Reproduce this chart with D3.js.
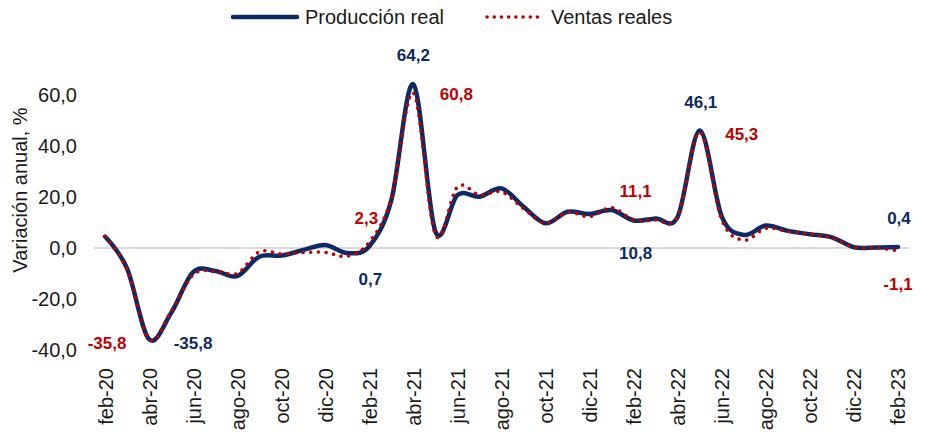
<!DOCTYPE html>
<html>
<head>
<meta charset="utf-8">
<script src="https://cdn.jsdelivr.net/npm/d3@7"></script>
<style>
  body { margin: 0; background: #fff; }
  svg { display: block; font-family: "Liberation Sans", Arial, sans-serif; }
</style>
</head>
<body>
<div id="chart"></div>
<script>
// monthly data, feb-20 .. feb-23
const months = [
  'feb-20','mar-20','abr-20','may-20','jun-20','jul-20','ago-20','sep-20','oct-20','nov-20','dic-20',
  'ene-21','feb-21','mar-21','abr-21','may-21','jun-21','jul-21','ago-21','sep-21','oct-21','nov-21','dic-21',
  'ene-22','feb-22','mar-22','abr-22','may-22','jun-22','jul-22','ago-22','sep-22','oct-22','nov-22','dic-22',
  'ene-23','feb-23'
];
const produccion = [
  4.5, -8, -35.8, -25.5, -9.5, -9, -11, -3.4, -3, -0.8, 1.2,
  -2, 0.7, 18.8, 64.2, 6.4, 20.8, 20.1, 23.4, 16.2, 9.7, 14.2, 13.3,
  14.9, 10.8, 11.6, 12.3, 46.1, 12.3, 5.1, 8.8, 6.7, 5.4, 4.2, 0.3,
  0.2, 0.4
];
const ventas = [
  4.5, -8.5, -35.8, -25, -10.5, -9, -10, -1.5, -2.3, -1.8, -1.7,
  -3.2, 2.3, 19.5, 60.8, 5.1, 24, 20.8, 22, 15.5, 9.7, 14, 12.3,
  15.8, 11.1, 11, 12.5, 45.3, 11, 3.1, 7.7, 6.5, 5.4, 4, 0.3,
  0.1, -1.1
];
const yTicks = [-40, -20, 0, 20, 40, 60];
const seriesNames = ['Producción real', 'Ventas reales'];

// which points get a value label (series index, month, offset)
const labelled = [
  { s: 0, m: 'abr-20', dx: 44, dy: 4 },
  { s: 1, m: 'abr-20', dx: -42, dy: 4 },
  { s: 0, m: 'feb-21', dx: 1, dy: 33 },
  { s: 1, m: 'feb-21', dx: -3, dy: -24 },
  { s: 0, m: 'abr-21', dx: 0, dy: -29 },
  { s: 1, m: 'abr-21', dx: 43, dy: 2 },
  { s: 0, m: 'feb-22', dx: 2, dy: 33 },
  { s: 1, m: 'feb-22', dx: 2, dy: -28 },
  { s: 0, m: 'may-22', dx: 1, dy: -28 },
  { s: 1, m: 'may-22', dx: 42, dy: 2 },
  { s: 0, m: 'feb-23', dx: 1, dy: -28 },
  { s: 1, m: 'feb-23', dx: 0, dy: 34 }
];

const width = 926, height = 432;
const blue = '#0c2a66', red = '#c00000';
const values = [produccion, ventas];
const colors = [blue, red];

const locale = d3.formatLocale({ decimal: ',', thousands: '.', grouping: [3], currency: ['', ''], minus: '-' });
const fmt = locale.format('.1f');

const svg = d3.select('#chart').append('svg')
  .attr('width', width)
  .attr('height', height);

const x = d3.scalePoint().domain(months).range([94, 909]).padding(0.5);
const y = d3.scaleLinear().domain([-40, 70]).range([350, 69.5]);

// zero line
svg.append('line')
  .attr('x1', 94).attr('x2', 909)
  .attr('y1', y(0)).attr('y2', y(0))
  .attr('stroke', '#d9d9d9').attr('stroke-width', 2);

// y axis
const yAxis = svg.append('g')
  .attr('transform', 'translate(77,0)')
  .call(d3.axisLeft(y).tickValues(yTicks).tickSize(0).tickPadding(0).tickFormat(fmt));
yAxis.select('.domain').remove();
yAxis.selectAll('text')
  .attr('font-size', 20)
  .attr('font-family', '"Liberation Sans", Arial, sans-serif')
  .attr('fill', '#1a1a1a');

svg.append('text')
  .attr('transform', 'translate(20,190) rotate(-90)')
  .attr('text-anchor', 'middle')
  .attr('dominant-baseline', 'central')
  .attr('font-size', 20)
  .attr('fill', '#1a1a1a')
  .text('Variación anual, %');

// x axis, every second month
const xAxis = svg.append('g')
  .attr('transform', 'translate(0,368)')
  .call(d3.axisBottom(x).tickValues(months.filter((d, i) => i % 2 === 0)).tickSize(0).tickPadding(0));
xAxis.select('.domain').remove();
xAxis.selectAll('text')
  .attr('font-size', 20)
  .attr('font-family', '"Liberation Sans", Arial, sans-serif')
  .attr('fill', '#1a1a1a')
  .attr('text-anchor', 'end')
  .attr('transform', 'rotate(-90)')
  .attr('x', 0)
  .attr('y', 0)
  .attr('dy', '0.35em');

// lines, smoothed like the spreadsheet
const line = d3.line()
  .x((d, i) => x(months[i]))
  .y(d => y(d))
  .curve(d3.curveCatmullRom.alpha(0));

svg.append('path')
  .datum(produccion)
  .attr('d', line)
  .attr('fill', 'none')
  .attr('stroke', blue)
  .attr('stroke-width', 4.5)
  .attr('stroke-linecap', 'round')
  .attr('stroke-linejoin', 'round');

svg.append('path')
  .datum(ventas)
  .attr('d', line)
  .attr('fill', 'none')
  .attr('stroke', red)
  .attr('stroke-width', 3.5)
  .attr('stroke-linecap', 'round')
  .attr('stroke-dasharray', '0.1 7.6');

// value labels
svg.append('g').selectAll('text')
  .data(labelled)
  .join('text')
  .attr('x', d => x(d.m) + d.dx)
  .attr('y', d => y(values[d.s][months.indexOf(d.m)]) + d.dy)
  .attr('text-anchor', 'middle')
  .attr('dominant-baseline', 'central')
  .attr('font-size', 17)
  .attr('font-weight', 'bold')
  .attr('fill', d => colors[d.s])
  .text(d => fmt(values[d.s][months.indexOf(d.m)]));

// legend
const legend = svg.append('g');
legend.append('line')
  .attr('x1', 233).attr('x2', 297).attr('y1', 17).attr('y2', 17)
  .attr('stroke', blue).attr('stroke-width', 4.5).attr('stroke-linecap', 'round');
legend.append('text')
  .attr('x', 305).attr('y', 17)
  .attr('dominant-baseline', 'central')
  .attr('font-size', 20).attr('fill', '#1a1a1a')
  .text(seriesNames[0]);
legend.append('line')
  .attr('x1', 487).attr('x2', 544).attr('y1', 17).attr('y2', 17)
  .attr('stroke', red).attr('stroke-width', 3.5)
  .attr('stroke-linecap', 'round').attr('stroke-dasharray', '0.1 7.1');
legend.append('text')
  .attr('x', 551).attr('y', 17)
  .attr('dominant-baseline', 'central')
  .attr('font-size', 20).attr('fill', '#1a1a1a')
  .text(seriesNames[1]);
</script>
</body>
</html>
